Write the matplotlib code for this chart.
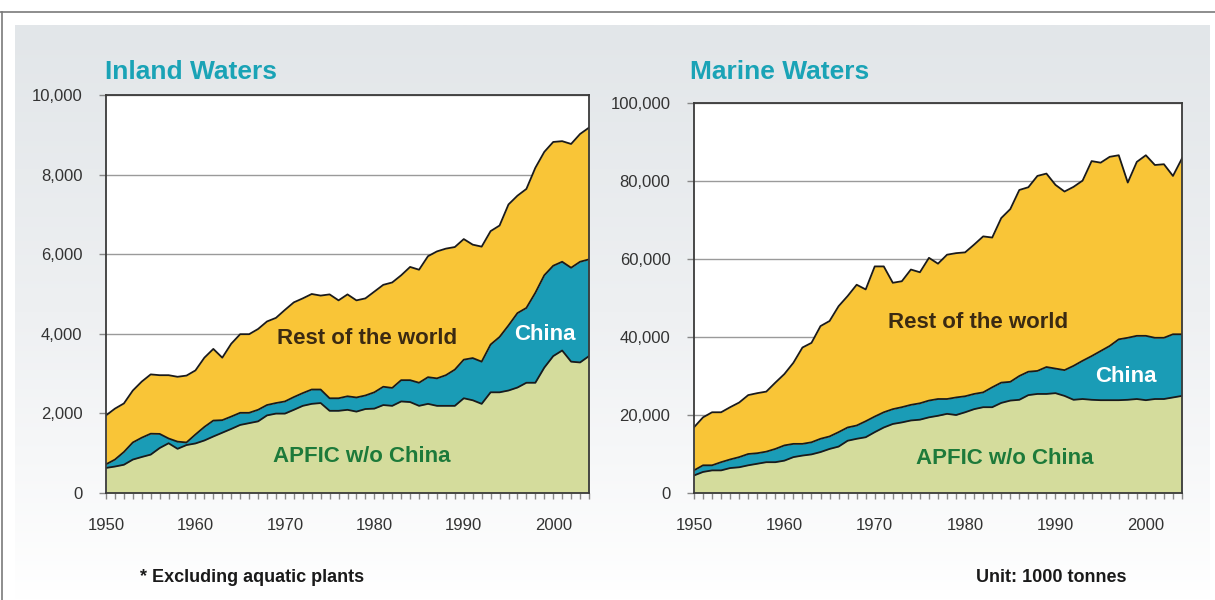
import numpy as np
import matplotlib
matplotlib.use("Agg")
import matplotlib.pyplot as plt
from matplotlib.lines import Line2D
from matplotlib.colors import LinearSegmentedColormap

plt.rcParams['font.family'] = ['Liberation Sans', 'DejaVu Sans']

years = list(range(1950, 2005))

# Inland waters, 1000 tonnes (stack tops)
inland_apfic = [630, 665, 710, 840, 905, 965, 1130, 1250, 1110, 1205,
                1245, 1320, 1420, 1515, 1610, 1710, 1755, 1800, 1950, 1995,
                1995, 2090, 2190, 2240, 2260, 2065, 2065, 2090, 2045, 2110,
                2120, 2210, 2190, 2300, 2285, 2190, 2240, 2190, 2190, 2190,
                2380, 2330, 2240, 2530, 2530, 2575, 2650, 2770, 2770, 3150,
                3440, 3580, 3300, 3280, 3440]
inland_china_top = [720, 840, 1030, 1270, 1390, 1490, 1485, 1370, 1290, 1270,
                    1470, 1660, 1820, 1830, 1920, 2015, 2015, 2090, 2210, 2260,
                    2300, 2410, 2510, 2600, 2600, 2380, 2380, 2430, 2400, 2450,
                    2530, 2670, 2640, 2835, 2835, 2770, 2910, 2880, 2960, 3100,
                    3350, 3390, 3300, 3730, 3920, 4210, 4520, 4650, 5030, 5470,
                    5710, 5810, 5660, 5810, 5870]
inland_total = [1950, 2120, 2250, 2575, 2800, 2980, 2960, 2960, 2920, 2950,
                3080, 3400, 3620, 3400, 3750, 3990, 3990, 4120, 4310, 4400,
                4600, 4790, 4890, 5000, 4960, 4990, 4840, 4990, 4840, 4890,
                5060, 5230, 5290, 5470, 5680, 5610, 5950, 6070, 6140, 6180,
                6380, 6240, 6190, 6580, 6720, 7250, 7470, 7640, 8170, 8570,
                8820, 8840, 8770, 9020, 9180]

# Marine waters, 1000 tonnes
marine_apfic = [4500, 5400, 5800, 5800, 6400, 6600, 7100, 7500, 7900, 7900,
                8300, 9200, 9600, 9900, 10500, 11300, 11900, 13400, 13900, 14300,
                15600, 16800, 17700, 18100, 18600, 18800, 19400, 19800, 20300, 20000,
                20700, 21500, 22000, 22000, 23100, 23700, 23900, 25100, 25400, 25400,
                25600, 24900, 23900, 24100, 23900, 23800, 23800, 23800, 23900, 24100,
                23800, 24100, 24100, 24500, 24900]
marine_china_top = [5800, 7100, 7100, 7900, 8600, 9200, 10000, 10200, 10600, 11300,
                    12200, 12600, 12600, 13000, 13900, 14500, 15600, 16800, 17300, 18400,
                    19600, 20700, 21500, 22000, 22600, 23000, 23700, 24100, 24100, 24500,
                    24800, 25400, 25800, 27100, 28300, 28500, 30000, 31100, 31300, 32300,
                    31900, 31500, 32600, 33900, 35100, 36400, 37700, 39400, 39800, 40300,
                    40300, 39800, 39800, 40700, 40700]
marine_total = [16850, 19400, 20700, 20700, 22000, 23200, 25100, 25600, 26000, 28300,
                30500, 33400, 37300, 38500, 42800, 44100, 47900, 50500, 53400, 52200,
                58100, 58100, 53900, 54300, 57300, 56600, 60300, 58800, 61100, 61500,
                61700, 63700, 65800, 65500, 70500, 72800, 77700, 78400, 81300, 81900,
                79000, 77300, 78500, 80100, 85100, 84700, 86200, 86600, 79600, 84900,
                86600, 84100, 84300, 81300, 85800]

panel_titles = ["Inland Waters", "Marine Waters"]
layer_names = ["APFIC w/o China", "China", "Rest of the world"]
x_ticks = [1950, 1960, 1970, 1980, 1990, 2000]
inland_yticks = [0, 2000, 4000, 6000, 8000, 10000]
marine_yticks = [0, 20000, 40000, 60000, 80000, 100000]

c_apfic = "#d4dc9c"
c_china = "#1a9cb6"
c_rest = "#f9c537"
c_title = "#1aa3b6"

W, H = 1215, 600
fig = plt.figure(figsize=(W / 100, H / 100), dpi=100)
fig.patch.set_facecolor("white")

# gradient background panel
bg = fig.add_axes([15 / W, 0, 1195 / W, 1 - 25 / H], zorder=-10)
grad = np.linspace(0, 1, 256).reshape(-1, 1)
cmap = LinearSegmentedColormap.from_list("bg", ["#e2e6e9", "#eef0f2", "#ffffff"])
bg.imshow(grad, aspect="auto", cmap=cmap, extent=[0, 1, 0, 1], origin="upper")
bg.axis("off")

# frame lines
fig.add_artist(Line2D([0, 1], [1 - 12 / H, 1 - 12 / H], color="#7a7a7a", lw=1.2))
fig.add_artist(Line2D([2 / W, 2 / W], [0, 1 - 12 / H], color="#7a7a7a", lw=1.2))


def fmt(v):
    return f"{v:,}"


def draw_panel(rect, apfic, china_top, total, yticks, title, tx, label_pos):
    ax = fig.add_axes(rect)
    ax.set_facecolor("white")
    ax.fill_between(years, 0, apfic, color=c_apfic, lw=0, zorder=2)
    ax.fill_between(years, apfic, china_top, color=c_china, lw=0, zorder=2)
    ax.fill_between(years, china_top, total, color=c_rest, lw=0, zorder=2)
    for s in (apfic, china_top, total):
        ax.plot(years, s, color="#1a1a1a", lw=1.3, zorder=3)
    ax.set_xlim(1950, 2004)
    ax.set_ylim(yticks[0], yticks[-1])
    ax.set_yticks(yticks)
    ax.set_yticklabels([fmt(v) for v in yticks], fontsize=12, color="#333333")
    ax.set_xticks(x_ticks)
    ax.set_xticklabels([str(v) for v in x_ticks], fontsize=12, color="#333333")
    ax.set_xticks(years, minor=True)
    ax.grid(axis="y", color="#9a9a9a", lw=1.0, zorder=1)
    ax.set_axisbelow(True)
    for sp in ax.spines.values():
        sp.set_color("#3a3a3a")
        sp.set_linewidth(1.3)
        sp.set_zorder(4)
    ax.tick_params(axis="y", which="major", length=5, width=1, color="#888888",
                   pad=12)
    ax.tick_params(axis="x", which="both", length=4, width=1, color="#888888",
                   pad=14)
    fig.text(tx / W, 1 - 79 / H, title, color=c_title, fontsize=19,
             fontweight="bold", va="baseline", ha="left")
    # layer labels
    (ax_r, ay_r), (ax_c, ay_c), (ax_a, ay_a) = label_pos
    fig.text(ax_r / W, 1 - ay_r / H, layer_names[2], color="#3b2a12", fontsize=16,
             fontweight="bold", ha="center", va="center", zorder=10)
    fig.text(ax_c / W, 1 - ay_c / H, layer_names[1], color="white", fontsize=16,
             fontweight="bold", ha="center", va="center", zorder=10)
    fig.text(ax_a / W, 1 - ay_a / H, layer_names[0], color="#1d7a3a", fontsize=16,
             fontweight="bold", ha="center", va="center", zorder=10)
    return ax


draw_panel([106 / W, 1 - 493 / H, 483 / W, 398 / H],
           inland_apfic, inland_china_top, inland_total, inland_yticks,
           panel_titles[0], 105, [(367, 339), (545, 334), (362, 456)])
draw_panel([694 / W, 1 - 493 / H, 488 / W, 390 / H],
           marine_apfic, marine_china_top, marine_total, marine_yticks,
           panel_titles[1], 690, [(978, 322), (1126, 376), (1005, 459)])

fig.text(140 / W, 1 - 577 / H, "* Excluding aquatic plants", fontsize=13,
         fontweight="bold", color="#1a1a1a", ha="left", va="center")
fig.text(1127 / W, 1 - 577 / H, "Unit: 1000 tonnes", fontsize=13,
         fontweight="bold", color="#1a1a1a", ha="right", va="center")

fig.savefig("out.png", dpi=100)
